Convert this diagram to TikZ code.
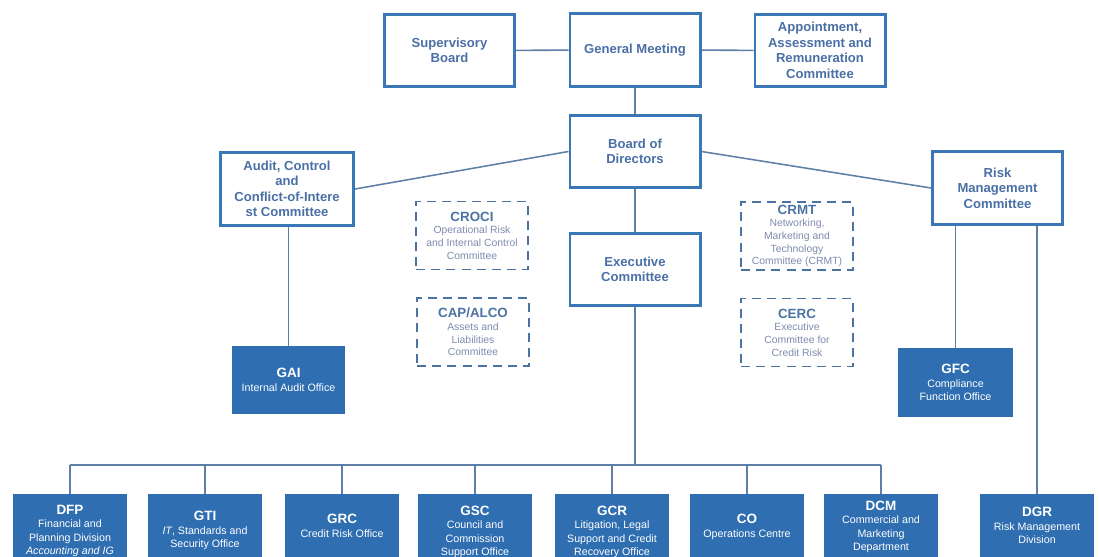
\documentclass[tikz,border=0pt]{standalone}
\usepackage{fontspec}
\setmainfont{Liberation Sans}
\definecolor{boxblue}{HTML}{3A77B7}
\definecolor{txtblue}{HTML}{4A70A6}
\definecolor{fillblue}{HTML}{2F6EB1}
\definecolor{linegray}{HTML}{5E7FA6}
\definecolor{subgray}{HTML}{7F8BAE}
\definecolor{dashblue}{HTML}{4C72A4}
\tikzset{
  obox/.style={draw=boxblue, line width=2.1pt, fill=white, inner sep=0pt,
    minimum width=3.25cm, minimum height=1.82cm, align=center, text=txtblue,
    font=\bfseries\fontsize{9.3}{11}\selectfont},
  dbox/.style={draw=dashblue, line width=1.4pt, dash pattern=on 6.4pt off 4.3pt,
    inner sep=0pt, minimum width=2.78cm, minimum height=1.7cm, align=center,
    text=subgray, font=\fontsize{7.4}{9}\selectfont},
  fbox/.style={fill=fillblue, draw=none, inner sep=0pt, minimum width=2.85cm,
    minimum height=1.7cm, align=center, text=white,
    font=\fontsize{7.6}{9.6}\selectfont},
  unit/.style={fbox, anchor=north, minimum height=#1},
  link/.style={draw=linegray, line width=1.1pt},
}
\newcommand{\dtitle}[1]{{\fontsize{9.5}{9}\selectfont\bfseries\color{dashblue}#1}}
\newcommand{\ftitle}[1]{{\fontsize{9.6}{9.6}\selectfont\bfseries #1}}
\begin{document}
\begin{tikzpicture}[x=0.025cm,y=-0.025cm]
\useasboundingbox (0,0) rectangle (1099,557);
\coordinate (bus) at (0,465);

% top level
\node[obox] (gm) at (635,50) {General Meeting};
\node[obox] (sb) at (449.5,50.5) {Supervisory\\Board};
\node[obox] (arc) at (820,50.5) {Appointment,\\Assessment and\\Remuneration\\Committee};
\node[obox] (bod) at (635,151.5) {Board of\\Directors};
\node[obox, minimum width=3.33cm] (acc) at (287,189) {Audit, Control\\and\\Conflict-of-Intere\\st Committee};
\node[obox] (rmc) at (997.5,188) {Risk\\Management\\Committee};
\node[obox] (exc) at (635,269.5) {Executive\\Committee};

% committees
\node[dbox] (croci) at (472,235.5) {\dtitle{CROCI}\\Operational Risk\\and Internal Control\\Committee};
\node[dbox] (alco) at (473,332) {\dtitle{CAP/ALCO}\\Assets and\\Liabilities\\Committee};
\node[dbox] (crmt) at (797,236) {\dtitle{CRMT}\\Networking,\\Marketing and\\Technology\\Committee (CRMT)};
\node[dbox] (cerc) at (797,332.5) {\dtitle{CERC}\\Executive\\Committee for\\Credit Risk};

% offices
\node[fbox, minimum width=2.83cm] (gai) at (288.5,380) {\ftitle{GAI}\\Internal Audit Office};
\node[fbox, minimum width=2.88cm, minimum height=1.73cm] (gfc) at (955.5,382.5) {\ftitle{GFC}\\Compliance\\Function Office};
\node[unit=1.83cm] (dfp) at (70,494) {\ftitle{DFP}\\Financial and\\Planning Division\\\textit{Accounting and IG}};
\node[unit=1.83cm] (gti) at (205,494) {\ftitle{GTI}\\\textit{IT}, Standards and\\Security Office};
\node[unit=1.57cm] (grc) at (342,494) {\ftitle{GRC}\\Credit Risk Office};
\node[unit=1.88cm] (gsc) at (475,494) {\ftitle{GSC}\\Council and\\Commission\\Support Office};
\node[unit=1.88cm] (gcr) at (612,494) {\ftitle{GCR}\\Litigation, Legal\\Support and Credit\\Recovery Office};
\node[unit=1.62cm] (co) at (747,494) {\ftitle{CO}\\Operations Centre};
\node[unit=1.63cm] (dcm) at (881,494) {\ftitle{DCM}\\Commercial and\\Marketing\\Department};
\node[unit=1.57cm] (dgr) at (1037,494) {\ftitle{DGR}\\Risk Management\\Division};

% connectors
\draw[link] (sb) -- (gm);
\draw[link] (gm) -- (arc);
\draw[link] (gm) -- (bod);
\draw[link] (bod.west) -- (acc.east);
\draw[link] (bod.east) -- (rmc.west);
\draw[link] (bod) -- (exc);
\draw[link] (gai.north) -- (gai.north |- acc.south);
\draw[link] (gfc.north) -- (gfc.north |- rmc.south);
\draw[link] (dgr.north) -- (dgr.north |- rmc.south);
\draw[link] (exc.south) -- (exc.south |- bus);
\draw[link] (dfp.north |- bus) -- (dcm.north |- bus);
\foreach \o in {dfp,gti,grc,gsc,gcr,co,dcm}
  \draw[link] (\o.north) -- (\o.north |- bus);
\end{tikzpicture}
\end{document}
